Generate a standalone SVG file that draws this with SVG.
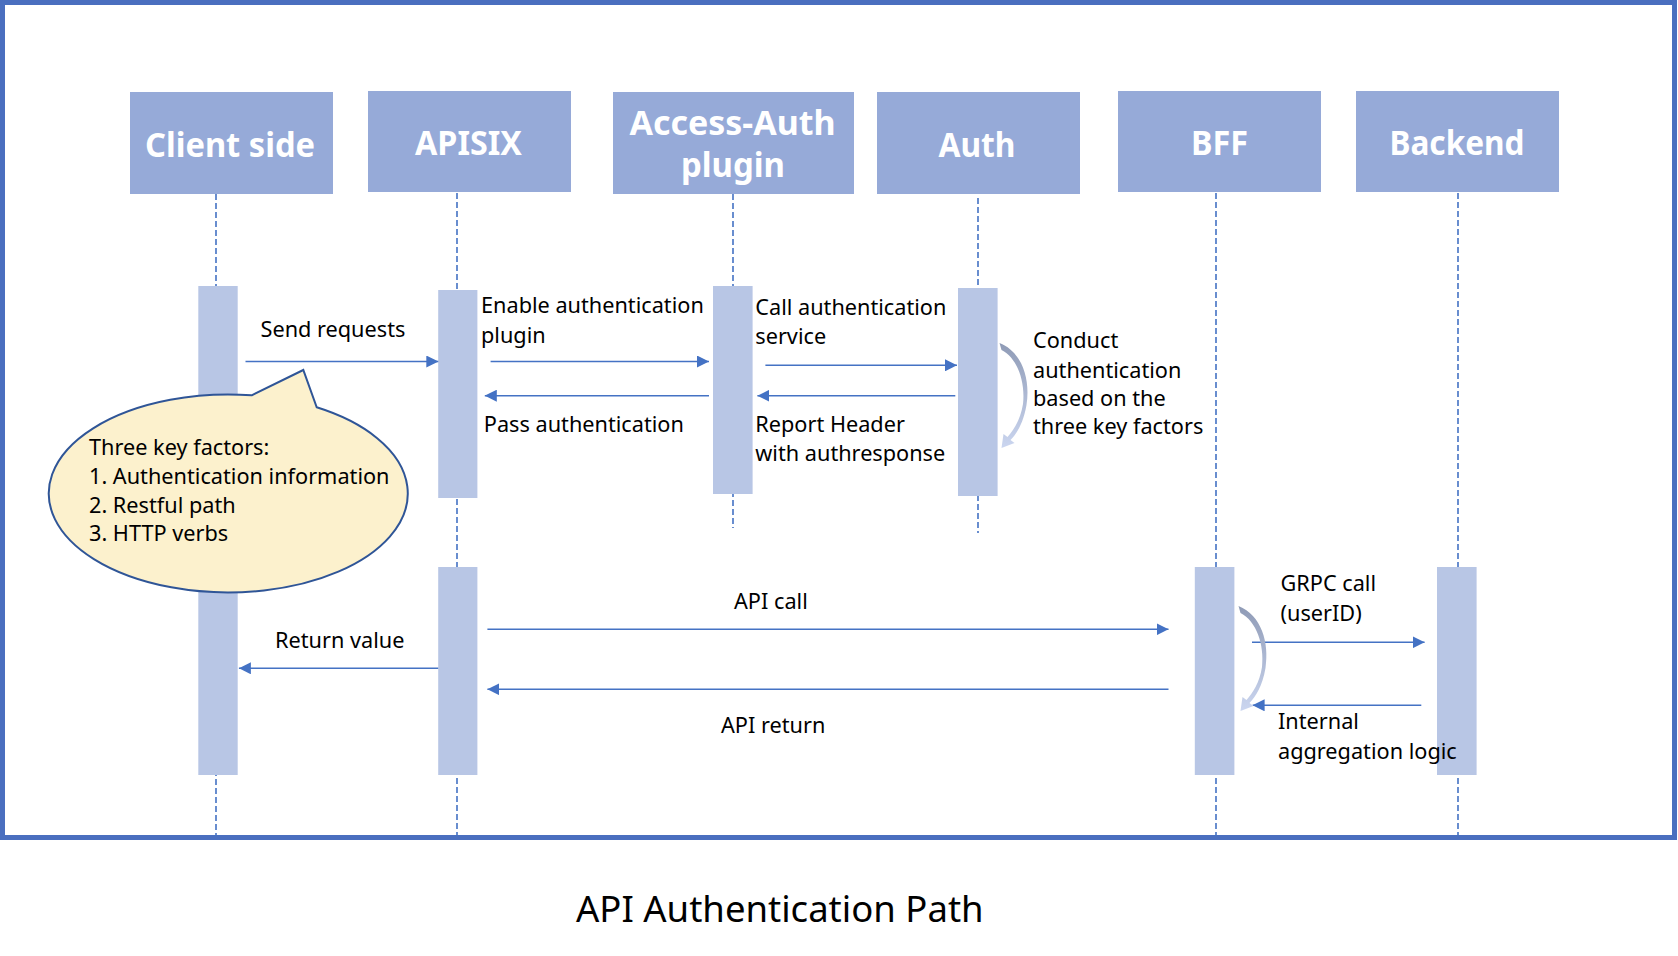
<svg xmlns="http://www.w3.org/2000/svg" width="1678" height="956" viewBox="0 0 1678 956">
<style>
.head{fill:#96AAD8}
.htxt{font-family:"Noto Sans","Liberation Sans",sans-serif;font-weight:bold;font-size:34px;fill:#fff}
.life{stroke:#4472C4;stroke-width:1.6;stroke-dasharray:6 3;fill:none}
.bar{fill:#B8C6E5}
.msg{stroke:#4472C4;stroke-width:1.6;fill:none;marker-end:url(#ah)}
.lbl{font-family:"Noto Sans","Liberation Sans",sans-serif;font-size:21.7px;fill:#000}
</style>
<defs>
<marker id="ah" markerUnits="userSpaceOnUse" markerWidth="12" markerHeight="12" refX="12" refY="6" orient="auto">
<path d="M0,0 L12,6 L0,12 z" fill="#4472C4"/>
</marker>
<linearGradient id="cg" x1="0" y1="0" x2="0" y2="1">
<stop offset="0" stop-color="#8F9BB6"/>
<stop offset="1" stop-color="#CBD6F0"/>
</linearGradient>
<path id="selfarrow" fill="url(#cg)" d="M -2,-1 C 21,8 29,36 25,61 C 22,79 15,90 9,96 L 13,99 L 0,104 L 2,90 L 6,93 C 12,86 19,76 21.5,60 C 24,38 16,14 0,6 Z"/>
</defs>
<rect width="1678" height="956" fill="#fff"/>
<rect x="2.5" y="2.5" width="1672" height="835" fill="none" stroke="#4A6FBF" stroke-width="5"/>

<g id="lifelines">
<line class="life" x1="216" y1="194" x2="216" y2="836"/>
<line class="life" x1="457" y1="193" x2="457" y2="836"/>
<line class="life" x1="733" y1="194" x2="733" y2="528"/>
<line class="life" x1="978" y1="198" x2="978" y2="533"/>
<line class="life" x1="1216" y1="193" x2="1216" y2="836"/>
<line class="life" x1="1458" y1="193" x2="1458" y2="836"/>
</g>

<g id="client-side">
<rect class="head" x="130" y="92" width="203" height="102"/>
<text class="htxt" x="145" y="156.7" textLength="170" lengthAdjust="spacingAndGlyphs">Client side</text>
<rect class="bar" x="198.3" y="286" width="39.4" height="489"/>
</g>
<g id="apisix">
<rect class="head" x="368" y="91" width="203" height="101"/>
<text class="htxt" x="415" y="155" textLength="107" lengthAdjust="spacingAndGlyphs">APISIX</text>
<rect class="bar" x="438.2" y="290" width="39.2" height="208"/>
<rect class="bar" x="438.2" y="567" width="39.2" height="208"/>
</g>
<g id="access-auth-plugin">
<rect class="head" x="613" y="92" width="241" height="102"/>
<text class="htxt" x="629.5" y="135" textLength="206" lengthAdjust="spacingAndGlyphs">Access-Auth</text>
<text class="htxt" x="681" y="176.7" textLength="104" lengthAdjust="spacingAndGlyphs">plugin</text>
<rect class="bar" x="713" y="286" width="39.6" height="208"/>
</g>
<g id="auth">
<rect class="head" x="877" y="92" width="203" height="102"/>
<text class="htxt" x="938.5" y="156.7" textLength="77" lengthAdjust="spacingAndGlyphs">Auth</text>
<rect class="bar" x="958" y="288" width="39.6" height="208"/>
</g>
<g id="bff">
<rect class="head" x="1118" y="91" width="203" height="101"/>
<text class="htxt" x="1191" y="155" textLength="57" lengthAdjust="spacingAndGlyphs">BFF</text>
<rect class="bar" x="1194.8" y="567" width="39.6" height="208"/>
</g>
<g id="backend">
<rect class="head" x="1356" y="91" width="203" height="101"/>
<text class="htxt" x="1389.5" y="155" textLength="135" lengthAdjust="spacingAndGlyphs">Backend</text>
<rect class="bar" x="1437" y="567" width="39.6" height="208"/>
</g>

<g id="connectors">
<line class="msg" x1="245.5" y1="361.5" x2="438.3" y2="361.5"/>
<line class="msg" x1="490.6" y1="361.5" x2="709" y2="361.5"/>
<line class="msg" x1="709" y1="395.7" x2="484.8" y2="395.7"/>
<line class="msg" x1="765.4" y1="365.3" x2="957" y2="365.3"/>
<line class="msg" x1="955.3" y1="395.7" x2="757.4" y2="395.7"/>
<line class="msg" x1="487.4" y1="629.3" x2="1168.5" y2="629.3"/>
<line class="msg" x1="1168.5" y1="689.3" x2="487.4" y2="689.3"/>
<line class="msg" x1="438.2" y1="668.3" x2="238.9" y2="668.3"/>
<line class="msg" x1="1252" y1="642.3" x2="1424.6" y2="642.3"/>
<line class="msg" x1="1421.3" y1="705.3" x2="1252.6" y2="705.3"/>
<use href="#selfarrow" transform="translate(1001.5,344)"/>
<use href="#selfarrow" transform="translate(1240.5,607)"/>
</g>

<g id="labels">
<text class="lbl" x="260.5" y="336.7">Send requests</text>
<text class="lbl" x="481" y="313.3">Enable authentication</text>
<text class="lbl" x="481" y="343">plugin</text>
<text class="lbl" x="755.3" y="315">Call authentication</text>
<text class="lbl" x="755.3" y="344.3">service</text>
<text class="lbl" x="483.8" y="432">Pass authentication</text>
<text class="lbl" x="755.3" y="432">Report Header</text>
<text class="lbl" x="755.3" y="461.3">with authresponse</text>
<text class="lbl" x="1033" y="347.7">Conduct</text>
<text class="lbl" x="1033" y="377.5">authentication</text>
<text class="lbl" x="1033" y="405.5">based on the</text>
<text class="lbl" x="1033" y="433.5">three key factors</text>
<text class="lbl" x="734" y="609.3">API call</text>
<text class="lbl" x="275" y="648.3">Return value</text>
<text class="lbl" x="721" y="732.7">API return</text>
<text class="lbl" x="1280.5" y="591">GRPC call</text>
<text class="lbl" x="1280.5" y="621">(userID)</text>
<text class="lbl" x="1278" y="729.3">Internal</text>
<text class="lbl" x="1278" y="758.7">aggregation logic</text>
</g>

<g id="callout">
<path d="M 251.7,395.3 L 303.3,370 L 316.7,407.3 A 179.5 99 0 1 1 251.7,395.3 Z" fill="#FCF1CD" stroke="#2F5597" stroke-width="2"/>
<text class="lbl" x="89" y="454.5">Three key factors:</text>
<text class="lbl" x="89" y="484">1. Authentication information</text>
<text class="lbl" x="89" y="512.7">2. Restful path</text>
<text class="lbl" x="89" y="540.7">3. HTTP verbs</text>
</g>

<text x="576" y="921.7" font-family="'Noto Sans','Liberation Sans',sans-serif" font-size="36.5" fill="#000">API Authentication Path</text>
</svg>
